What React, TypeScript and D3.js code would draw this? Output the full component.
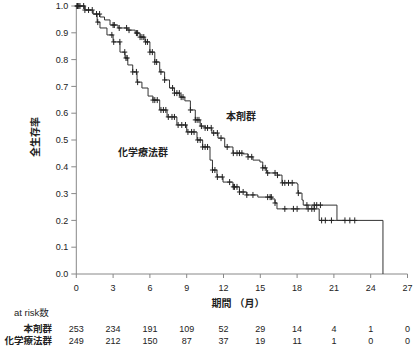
import React from "react";
import * as d3 from "d3";

// 本剤群 step points (time in months, survival after the step)
const drugTimes = [0, 0.7, 1.36, 1.93, 2.3, 2.75, 3.4, 4.2, 4.8, 5.2, 5.6, 6.0, 6.4, 6.8, 7.2, 7.6, 8.0, 8.45, 8.85, 9.3, 9.7, 10.1, 10.5, 11.05, 11.55, 12.1, 12.77, 13.6, 14.0, 14.4, 14.97, 15.2, 15.5, 16.4, 16.77, 18.0, 18.07, 18.4, 18.5, 21.25, 25];
const drugSurv = [1, 0.985, 0.97, 0.959, 0.948, 0.929, 0.918, 0.91, 0.899, 0.884, 0.866, 0.828, 0.791, 0.754, 0.724, 0.694, 0.675, 0.66, 0.646, 0.612, 0.575, 0.552, 0.545, 0.526, 0.507, 0.474, 0.451, 0.448, 0.437, 0.425, 0.418, 0.396, 0.377, 0.369, 0.34, 0.336, 0.302, 0.276, 0.257, 0.2, 0];
const drugCensor = [0.05, 0.2, 0.7, 1.3, 1.9, 3.0, 3.1, 3.5, 4.1, 4.3, 4.9, 5.0, 5.2, 5.35, 5.5, 5.65, 5.8, 6.0, 6.2, 6.4, 6.55, 6.9, 7.2, 7.85, 8.0, 8.2, 8.4, 8.55, 8.7, 9.3, 9.7, 9.85, 10.0, 10.2, 10.5, 10.7, 11.0, 11.2, 11.5, 11.8, 12.3, 12.8, 13.1, 13.3, 13.5, 14.0, 14.3, 15.2, 15.4, 15.6, 16.2, 16.4, 16.8, 17.0, 17.3, 17.6, 18.1, 18.8, 19.4, 19.6, 19.9, 22.3, 22.7];

// 化学療法群 step points
const chemoTimes = [0, 0.7, 1.36, 1.7, 1.93, 2.5, 3.0, 3.56, 3.97, 4.2, 4.6, 4.95, 5.35, 5.85, 6.25, 6.8, 7.4, 8.2, 9.0, 9.84, 10.3, 10.9, 11.1, 11.47, 11.96, 12.77, 13.3, 13.9, 14.8, 15.95, 16.2, 16.36, 19.8, 21.9];
const chemoSurv = [1, 0.985, 0.97, 0.94, 0.918, 0.892, 0.866, 0.828, 0.806, 0.78, 0.754, 0.716, 0.694, 0.664, 0.649, 0.612, 0.586, 0.556, 0.53, 0.5, 0.474, 0.425, 0.388, 0.362, 0.343, 0.325, 0.306, 0.295, 0.287, 0.28, 0.265, 0.243, 0.2, 0.2];
const chemoCensor = [0.1, 0.3, 0.6, 1.0, 1.65, 1.75, 2.9, 3.05, 3.55, 3.95, 4.05, 4.15, 4.6, 4.9, 5.0, 6.25, 6.4, 6.6, 6.9, 7.1, 7.3, 7.5, 7.8, 8.0, 8.3, 8.6, 8.9, 9.1, 9.4, 9.6, 9.9, 10.1, 10.3, 10.5, 10.7, 11.1, 11.3, 11.5, 11.9, 12.5, 12.8, 12.9, 13.1, 13.3, 13.6, 13.9, 14.4, 15.6, 15.8, 15.9, 16.2, 17.0, 17.7, 18.0, 18.9, 19.2, 19.4, 20.0, 20.3, 20.8, 21.9];

const xTicks = [0, 3, 6, 9, 12, 15, 18, 21, 24, 27];
const yTicks = [0, 0.1, 0.2, 0.3, 0.4, 0.5, 0.6, 0.7, 0.8, 0.9, 1.0];
const riskDrug = [253, 234, 191, 109, 52, 29, 14, 4, 1, 0];
const riskChemo = [249, 212, 150, 87, 37, 19, 11, 1, 0, 0];

const groupNames = ["本剤群", "化学療法群"];

const FONT = "'Liberation Sans', Arial, 'Noto Sans CJK JP', sans-serif";
const JFONT = "'Liberation Sans', Arial, 'Noto Sans CJK JP', sans-serif";

export default function App() {
  const x = d3.scaleLinear().domain([0, 27]).range([76.3, 407.5]);
  const y = d3.scaleLinear().domain([0, 1]).range([274, 6]);

  const mk = (ts: number[], ss: number[]) => ts.map((t, i) => [t, ss[i]] as [number, number]);
  const line = d3
    .line<[number, number]>()
    .x((d) => x(d[0]))
    .y((d) => y(d[1]))
    .curve(d3.curveStepAfter);

  const survAt = (ts: number[], ss: number[], t: number) => {
    const i = d3.bisectRight(ts, t) - 1;
    return ss[Math.max(0, i)];
  };

  const groups = [
    { ts: drugTimes, ss: drugSurv, cs: drugCensor },
    { ts: chemoTimes, ss: chemoSurv, cs: chemoCensor },
  ];

  const stroke = "#333";

  return (
    <svg width={415} height={350} style={{ position: "absolute", left: 0, top: 0 }} fontFamily={FONT}>
      <rect width={415} height={350} fill="#fff" />
      {/* axes */}
      <line x1={x(0)} x2={x(0)} y1={y(0)} y2={y(1)} stroke="#888" strokeWidth={1} />
      <line x1={x(0)} x2={x(27)} y1={y(0)} y2={y(0)} stroke="#888" strokeWidth={1} />
      {yTicks.map((v) => (
        <g key={"y" + v}>
          <line x1={x(0) - 5} x2={x(0)} y1={y(v)} y2={y(v)} stroke="#888" />
          <text x={x(0) - 8} y={y(v)} dy="0.35em" textAnchor="end" fontSize={9} fill="#222">
            {v.toFixed(1)}
          </text>
        </g>
      ))}
      {xTicks.map((v) => (
        <g key={"x" + v}>
          <line x1={x(v)} x2={x(v)} y1={y(0)} y2={y(0) + 4} stroke="#888" />
          <text x={x(v)} y={288} dy="0.35em" textAnchor="middle" fontSize={9} fill="#222">
            {v}
          </text>
        </g>
      ))}
      <text x={238} y={303} dy="0.35em" textAnchor="middle" fontSize={10} fontWeight="bold" fill="#222" fontFamily={JFONT}>
        期間 （月）
      </text>
      <text
        transform={`translate(35,137) rotate(-90)`}
        textAnchor="middle"
        dy="0.35em"
        fontSize={10}
        fontWeight="bold"
        fill="#222"
        fontFamily={JFONT}
      >
        全生存率
      </text>

      {/* curves */}
      {groups.map((g, gi) => (
        <g key={"g" + gi}>
          <path d={line(mk(g.ts, g.ss)) || ""} fill="none" stroke={stroke} strokeWidth={1} />
          {g.cs.map((t, i) => {
            const cx = x(t);
            const cy = y(survAt(g.ts, g.ss, t));
            return (
              <path
                key={i}
                d={`M${cx - 2.5},${cy}H${cx + 2.5}M${cx},${cy - 3}V${cy + 3}`}
                stroke="#222"
                strokeWidth={1}
                fill="none"
              />
            );
          })}
        </g>
      ))}

      <text x={241} y={116} dy="0.35em" textAnchor="middle" fontSize={10} fontWeight="bold" fill="#222" fontFamily={JFONT}>
        {groupNames[0]}
      </text>
      <text x={143} y={152} dy="0.35em" textAnchor="middle" fontSize={10} fontWeight="bold" fill="#222" fontFamily={JFONT}>
        {groupNames[1]}
      </text>

      {/* at risk table */}
      <text x={14} y={313} dy="0.35em" fontSize={9.5} fill="#222">
        at risk数
      </text>
      <text x={52} y={329} dy="0.35em" textAnchor="end" fontSize={9.5} fontWeight="bold" fill="#222" fontFamily={JFONT}>
        {groupNames[0]}
      </text>
      <text x={52} y={341} dy="0.35em" textAnchor="end" fontSize={9.5} fontWeight="bold" fill="#222" fontFamily={JFONT}>
        {groupNames[1]}
      </text>
      {xTicks.map((t, i) => (
        <g key={"r" + t}>
          <text x={x(t)} y={329} dy="0.35em" textAnchor="middle" fontSize={9} fill="#222">
            {riskDrug[i]}
          </text>
          <text x={x(t)} y={341} dy="0.35em" textAnchor="middle" fontSize={9} fill="#222">
            {riskChemo[i]}
          </text>
        </g>
      ))}
    </svg>
  );
}
